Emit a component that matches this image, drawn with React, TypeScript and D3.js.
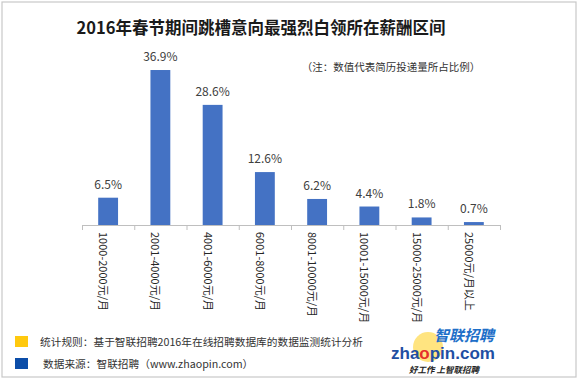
import React from "react";
import * as d3 from "d3";

const categories = [
  "1000-2000元/月",
  "2001-4000元/月",
  "4001-6000元/月",
  "6001-8000元/月",
  "8001-10000元/月",
  "10001-15000元/月",
  "15000-25000元/月",
  "25000元/月以上",
];
const values = [6.5, 36.9, 28.6, 12.6, 6.2, 4.4, 1.8, 0.7];
const title = "2016年春节期间跳槽意向最强烈白领所在薪酬区间";
const note = "（注：数值代表简历投递量所占比例）";
const footnotes = [
  "统计规则：基于智联招聘2016年在线招聘数据库的数据监测统计分析",
  "数据来源：智联招聘（www.zhaopin.com）",
];

const W = 580;
const H = 380;
const FONT = "'Noto Sans CJK SC', 'Noto Sans', sans-serif";

export default function App() {
  const x = d3.scaleBand<string>().domain(categories).range([82, 500]).padding(0);
  const y = d3.scaleLinear().domain([0, 40]).range([225, 57]);
  const bw = x.bandwidth() * 0.38;
  const baseY = y(0);
  const ticks = categories.map((c) => x(c) as number).concat([x.range()[1]]);

  return (
    <svg
      width={W}
      height={H}
      style={{ position: "absolute", left: 0, top: 0, background: "#fff" }}
      fontFamily={FONT}
    >
      <rect x={2} y={2} width={574} height={375} fill="#fff" stroke="#c8c8c8" strokeWidth={1.2} />
      <text x={261} y={34} textAnchor="middle" fontSize={16.5} fontWeight="bold" fill="#1a1a1a">
        {title}
      </text>
      <text x={391} y={71} textAnchor="middle" fontSize={10.5} fill="#333">
        {note}
      </text>

      {categories.map((c, i) => {
        const cx = (x(c) as number) + x.bandwidth() / 2;
        const top = y(values[i]);
        return (
          <g key={c}>
            <rect x={cx - bw / 2} y={top} width={bw} height={baseY - top} fill="#4472C4" />
            <text x={cx} y={top - 9} textAnchor="middle" fontSize={12} fill="#404040">
              {values[i].toFixed(1) + "%"}
            </text>
            <text
              transform={`translate(${cx - 4},232) rotate(90)`}
              textAnchor="start"
              dominantBaseline="central"
              fontSize={11}
              fill="#262626"
            >
              {c}
            </text>
          </g>
        );
      })}

      <line x1={x.range()[0]} x2={x.range()[1]} y1={baseY + 0.5} y2={baseY + 0.5} stroke="#bfbfbf" />
      {ticks.map((t, i) => (
        <line key={i} x1={t + 0.5} x2={t + 0.5} y1={baseY} y2={baseY + 5} stroke="#bfbfbf" />
      ))}

      <rect x={15} y={336} width={13} height={11} fill="#FFC90E" />
      <rect x={15} y={358} width={13} height={11} fill="#0B4DA8" />
      <text x={40} y={346} fontSize={10.7} fill="#333">{footnotes[0]}</text>
      <text x={43} y={368} fontSize={10.7} fill="#333">{footnotes[1]}</text>

      <circle cx={428} cy={347} r={15} fill="#FFD84A" opacity={0.7} />
      <text x={434} y={341} fontSize={15} fontWeight="bold" fontStyle="italic" fill="#1E6FC8">
        智联招聘
      </text>
      <text x={391} y={359} fontSize={17} fontWeight="bold" fill="#1F4FA3" fontFamily="'Liberation Sans', Arial, sans-serif">
        zha<tspan fill="#E5302A">o</tspan>pin.com
      </text>
      <text x={409} y={373} fontSize={8.5} fontWeight="bold" fontStyle="italic" fill="#222">
        好工作  上智联招聘
      </text>
    </svg>
  );
}
